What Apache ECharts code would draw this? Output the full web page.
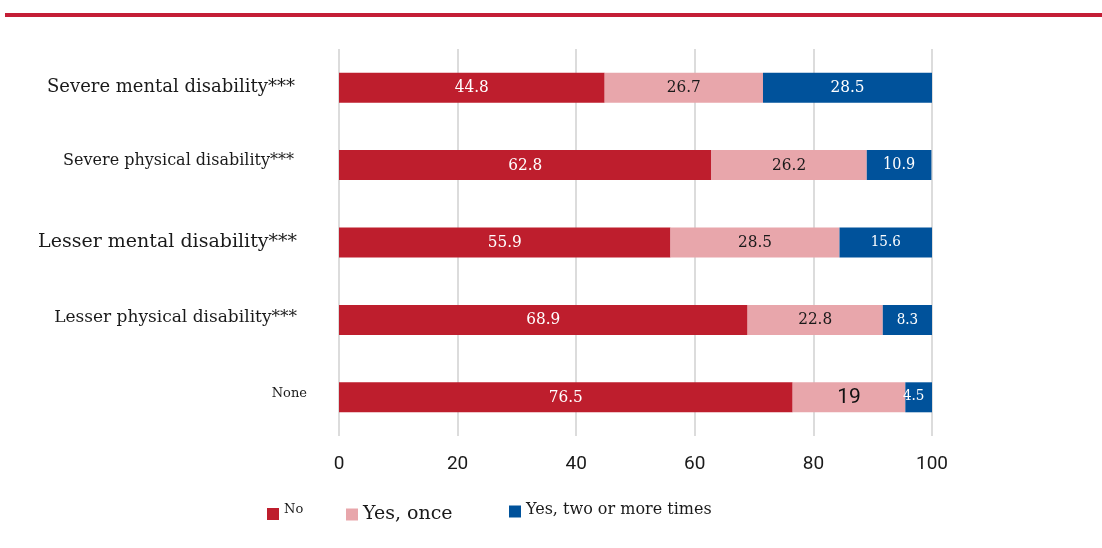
<!DOCTYPE html>
<html><head><meta charset="utf-8">
<script src="https://cdn.jsdelivr.net/npm/echarts@6/dist/echarts.min.js"></script>
<style>html,body{margin:0;padding:0;background:#fff}#c{width:1102px;height:548px}</style>
</head><body><div id="c"></div>
<script>
const categories = ['Severe mental disability***','Severe physical disability***','Lesser mental disability***','Lesser physical disability***','None'];
const seriesNames = ['No','Yes, once','Yes, two or more times'];
const noValues = [44.8, 62.8, 55.9, 68.9, 76.5];
const onceValues = [26.7, 26.2, 28.5, 22.8, 19];
const twiceValues = [28.5, 10.9, 15.6, 8.3, 4.5];
const xTicks = [0, 20, 40, 60, 80, 100];

const SERIF = '"DejaVu Serif", "Liberation Serif", serif';
const SERIFC = '"DejaVu Serif Condensed", "Liberation Serif", serif';
const SANS = 'Roboto, "Noto Sans", sans-serif';
const RED = '#BE1E2D', PINK = '#E8A6AB', BLUE = '#00529B';

// per-category label styles (presentation only)
const catStyles = ['c0','c1','c2','c3','c4'];
const rich = {
  c0:{fontFamily:SERIF,fontSize:18,color:'#1a1a1a',padding:[0,6,0,0]},
  c1:{fontFamily:SERIF,fontSize:16,color:'#1a1a1a',padding:[0,7,8,0]},
  c2:{fontFamily:SERIF,fontSize:19,color:'#1a1a1a',padding:[0,4,0,0]},
  c3:{fontFamily:SERIF,fontSize:17,color:'#1a1a1a',padding:[0,4,4,0]},
  c4:{fontFamily:SERIF,fontSize:13,color:'#1a1a1a',padding:[0,-6,8,0]}
};
const onceLabelStyles = [
  {fontFamily:SERIFC,fontSize:17,color:'#1a1a1a'},
  {fontFamily:SERIFC,fontSize:17,color:'#1a1a1a'},
  {fontFamily:SERIFC,fontSize:17,color:'#1a1a1a'},
  {fontFamily:SERIFC,fontSize:17,color:'#1a1a1a'},
  {fontFamily:SANS,fontSize:21,color:'#111'}
];
const twiceLabelStyles = [
  {fontSize:17},{fontSize:16},{fontSize:15},{fontSize:15},{fontSize:15, offset:[-5,-1]}
];

const chart = echarts.init(document.getElementById('c'));
chart.setOption({
  animation:false,
  backgroundColor:'#fff',
  graphic:[{type:'rect',shape:{x:5,y:13,width:1097,height:4},style:{fill:'#C41E36'}}],
  grid:{left:339,right:170,top:49,bottom:112,containLabel:false},
  xAxis:{type:'value',min:0,max:100,interval:20,
    axisLine:{show:false},axisTick:{show:false},
    axisLabel:{margin:19,fontFamily:SANS,fontSize:19,color:'#1a1a1a',
      formatter:v=> xTicks.includes(v)? String(v):''},
    splitLine:{lineStyle:{color:'#dcdcdc',width:2}}},
  yAxis:{type:'category',data:categories,inverse:true,
    axisLine:{show:false},axisTick:{show:false},
    axisLabel:{margin:38,formatter:(v,i)=>'{'+catStyles[i]+'|'+v+'}',rich:rich}},
  legend:[
    {data:[seriesNames[0]],left:262,top:498,itemWidth:12,itemHeight:12,icon:'rect',itemGap:5,
     formatter:n=>'{s|'+n+'}',
     textStyle:{rich:{s:{fontFamily:SERIF,fontSize:13,color:'#1a1a1a',padding:[0,0,9,0]}}}},
    {data:[seriesNames[1]],left:341,top:500,itemWidth:12,itemHeight:12,icon:'rect',
     textStyle:{fontFamily:SERIF,fontSize:19,color:'#1a1a1a'}},
    {data:[seriesNames[2]],left:504,top:497,itemWidth:12,itemHeight:12,icon:'rect',
     formatter:n=>'{s|'+n+'}',
     textStyle:{rich:{s:{fontFamily:SERIF,fontSize:16,color:'#1a1a1a',padding:[0,0,3,0]}}}}
  ],
  series:[
    {name:seriesNames[0],type:'bar',stack:'t',barWidth:30,itemStyle:{color:RED},
     label:{show:true,position:'inside',color:'#fff',fontFamily:SERIFC,fontSize:17},
     data:noValues},
    {name:seriesNames[1],type:'bar',stack:'t',barWidth:30,itemStyle:{color:PINK},
     label:{show:true,position:'inside'},
     data:onceValues.map((v,i)=>({value:v,label:onceLabelStyles[i]}))},
    {name:seriesNames[2],type:'bar',stack:'t',barWidth:30,itemStyle:{color:BLUE},
     label:{show:true,position:'inside',color:'#fff',fontFamily:SERIFC},
     data:twiceValues.map((v,i)=>({value:v,label:twiceLabelStyles[i]}))}
  ]
});
</script></body></html>
